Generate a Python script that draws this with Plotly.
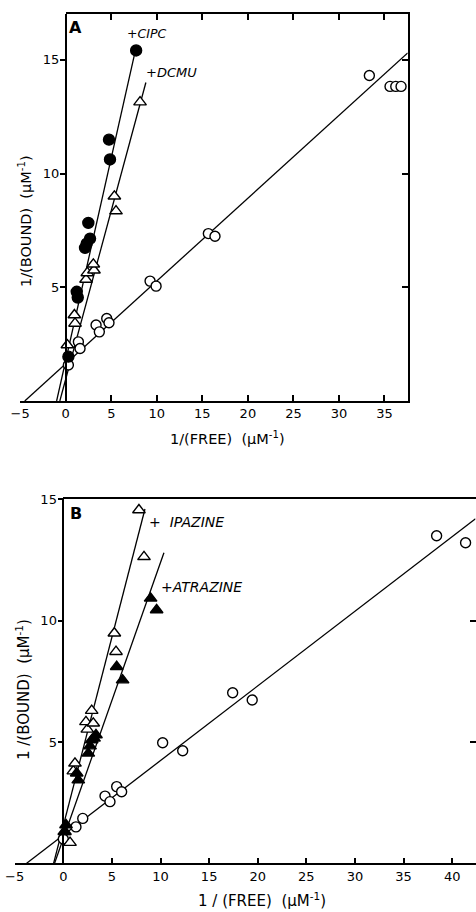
import plotly.graph_objects as go

W, H = 476, 912

# ---------------- Panel A data ----------------
a_ctrl_x = [0.29, 1.39, 1.57, 3.33, 3.69, 4.5, 4.75, 9.26, 9.92, 15.66, 16.39, 33.34, 35.61, 36.24, 36.82]
a_ctrl_y = [1.58, 2.6, 2.31, 3.34, 3.04, 3.63, 3.44, 5.27, 5.05, 7.36, 7.24, 14.31, 13.83, 13.83, 13.83]
a_cipc_x = [0.29, 1.21, 1.32, 2.12, 2.3, 2.67, 2.48, 4.86, 4.75, 7.73]
a_cipc_y = [1.95, 4.8, 4.55, 6.73, 6.92, 7.14, 7.83, 10.62, 11.49, 15.41]
a_dcmu_x = [0.18, 1.02, 0.95, 2.23, 2.37, 3.1, 3.03, 5.52, 5.34, 8.16]
a_dcmu_y = [2.46, 3.41, 3.78, 5.34, 5.63, 5.75, 6.01, 8.35, 9.0, 13.14]
# fitted lines (end points)
a_ctrl_line_x = [-4.5, 37.55]
a_ctrl_line_y = [0.0, 15.3]
a_cipc_line_x = [-1.0, 7.7]
a_cipc_line_y = [0.0, 15.5]
a_dcmu_line_x = [-0.65, 8.8]
a_dcmu_line_y = [0.0, 14.0]
a_xticks = [-5, 0, 5, 10, 15, 20, 25, 30, 35]
a_yticks = [5, 10, 15]

# ---------------- Panel B data ----------------
b_ctrl_x = [0.0, 1.3, 2.0, 4.29, 4.8, 5.49, 6.0, 10.22, 12.28, 17.42, 19.43, 38.4, 41.38]
b_ctrl_y = [1.0, 1.5, 1.85, 2.77, 2.54, 3.16, 2.95, 4.97, 4.64, 7.03, 6.73, 13.5, 13.21]
b_ipaz_x = [0.1, 0.69, 1.03, 1.2, 2.47, 2.33, 3.08, 2.92, 5.42, 5.25, 8.3, 7.78]
b_ipaz_y = [1.3, 0.85, 3.8, 4.12, 5.52, 5.83, 5.77, 6.29, 8.72, 9.48, 12.63, 14.56]
b_atra_x = [0.17, 0.28, 1.54, 1.38, 2.57, 2.75, 2.92, 3.16, 3.36, 6.1, 5.49, 9.6, 8.98]
b_atra_y = [1.3, 1.58, 3.43, 3.71, 4.53, 4.83, 5.08, 5.15, 5.29, 7.55, 8.1, 10.44, 10.92]
b_ctrl_line_x = [-3.77, 42.4]
b_ctrl_line_y = [0.0, 14.2]
b_ipaz_line_x = [-1.0, 8.4]
b_ipaz_line_y = [0.0, 14.6]
b_atra_line_x = [-0.9, 10.35]
b_atra_line_y = [0.0, 12.8]
b_xticks = [-5, 0, 5, 10, 15, 20, 25, 30, 35, 40]
b_yticks = [5, 10, 15]

# ---------------- geometry (pixels) ----------------
A_xr = [-5, 37.55]; A_yr = [0, 17]
A_px = (20.2, 407.7); A_py = (14.3, 401.0)   # left,right ; top,bottom
B_xr = [-5, 42.4]; B_yr = [0, 15]
B_px = (14.7, 475.5); B_py = (499.3, 863.3)

def xd(p):
    return [p[0] / W, p[1] / W]

def yd(p):
    return [1 - p[1] / H, 1 - p[0] / H]

def zero_pos(xr, dom):
    return dom[0] + (0 - xr[0]) / (xr[1] - xr[0]) * (dom[1] - dom[0])

FONT = "DejaVu Sans"
BLACK = "black"
LW = 1.6

fig = go.Figure()

def add_lines(x, y, xa, ya):
    fig.add_trace(go.Scatter(x=x, y=y, mode="lines", line=dict(color=BLACK, width=1.3),
                             xaxis=xa, yaxis=ya, showlegend=False, hoverinfo="skip"))

def add_marks(x, y, sym, fill, xa, ya, size=10):
    fig.add_trace(go.Scatter(x=x, y=y, mode="markers",
                             marker=dict(symbol=sym, size=size, color=fill,
                                         line=dict(color=BLACK, width=1.4)),
                             xaxis=xa, yaxis=ya, showlegend=False, hoverinfo="skip"))

# Panel A
add_lines(a_ctrl_line_x, a_ctrl_line_y, "x", "y")
add_lines(a_cipc_line_x, a_cipc_line_y, "x", "y")
add_lines(a_dcmu_line_x, a_dcmu_line_y, "x", "y")
add_marks(a_ctrl_x, a_ctrl_y, "circle", "white", "x", "y", 10)
add_marks(a_dcmu_x, a_dcmu_y, "triangle-up", "white", "x", "y", 11)
add_marks(a_cipc_x, a_cipc_y, "circle", BLACK, "x", "y", 11)
# Panel B
add_lines(b_ctrl_line_x, b_ctrl_line_y, "x2", "y2")
add_lines(b_ipaz_line_x, b_ipaz_line_y, "x2", "y2")
add_lines(b_atra_line_x, b_atra_line_y, "x2", "y2")
add_marks(b_ctrl_x, b_ctrl_y, "circle", "white", "x2", "y2", 10)
add_marks(b_ipaz_x, b_ipaz_y, "triangle-up", "white", "x2", "y2", 11)
add_marks(b_atra_x, b_atra_y, "triangle-up", BLACK, "x2", "y2", 11)

# dummy traces for frame axes
for xa, ya in [("x3", "y"), ("x", "y3"), ("x4", "y2"), ("x2", "y4")]:
    fig.add_trace(go.Scatter(x=[None], y=[None], mode="markers", xaxis=xa, yaxis=ya,
                             showlegend=False, hoverinfo="skip"))

tickfont = dict(family=FONT, size=13, color=BLACK)
base = dict(showgrid=False, zeroline=False, showline=True, linecolor=BLACK, linewidth=LW,
            tickcolor=BLACK, tickwidth=LW, ticklen=6, tickfont=tickfont, fixedrange=True,
            automargin=False)

Axd, Ayd = xd(A_px), yd(A_py)
Bxd, Byd = xd(B_px), yd(B_py)
A0 = zero_pos(A_xr, Axd)
B0 = zero_pos(B_xr, Bxd)

fig.update_layout(
    template="none",
    width=W, height=H, margin=dict(l=0, r=0, t=0, b=0, pad=0, autoexpand=False),
    paper_bgcolor="white", plot_bgcolor="rgba(0,0,0,0)",
    xaxis=dict(base, domain=Axd, range=A_xr, anchor="y", ticks="inside",
               tickmode="array", tickvals=a_xticks),
    yaxis=dict(base, domain=Ayd, range=A_yr, anchor="free", position=A0, ticks="outside",
               ticklen=5, ticklabelstandoff=-2, tickmode="array", tickvals=a_yticks),
    xaxis3=dict(base, domain=[A0, Axd[1]], range=[0, A_xr[1]], anchor="y", side="top",
                ticks="inside", tickmode="array", tickvals=a_xticks[2:], showticklabels=False),
    yaxis3=dict(base, domain=Ayd, range=A_yr, anchor="x", side="right", overlaying="y",
                ticks="inside", tickmode="array", tickvals=a_yticks, showticklabels=False),
    xaxis2=dict(base, domain=Bxd, range=B_xr, anchor="y2", ticks="inside",
                tickmode="array", tickvals=b_xticks),
    yaxis2=dict(base, domain=Byd, range=B_yr, anchor="free", position=B0, ticks="outside",
                ticklen=5, ticklabelstandoff=-2, tickmode="array", tickvals=b_yticks),
    xaxis4=dict(base, domain=[B0, Bxd[1]], range=[0, B_xr[1]], anchor="y2", side="top",
                ticks="", showticklabels=False),
    yaxis4=dict(base, domain=Byd, range=B_yr, anchor="x2", side="right", overlaying="y2",
                ticks="inside", tickmode="array", tickvals=b_yticks, showticklabels=False),
)

def ann(text, x, y, size=12, angle=0, xanchor="center", italic=False, bold=False):
    if italic:
        text = "<i>" + text + "</i>"
    if bold:
        text = "<b>" + text + "</b>"
    fig.add_annotation(text=text, x=x / W, y=1 - y / H, xref="paper", yref="paper",
                       showarrow=False, textangle=angle, xanchor=xanchor, yanchor="middle",
                       borderpad=0, font=dict(family=FONT, size=size, color=BLACK))

SP = "\u00a0\u00a0"
unit = "(\u00b5M<sup>-1</sup>)"
# Panel A texts
ann("A", 68, 28, size=16, xanchor="left", bold=True)
ann("+CIPC", 126, 33, size=12.5, italic=True, xanchor="left")
ann("+DCMU", 145, 72, size=13, italic=True, xanchor="left")
ann("1/(FREE)" + SP + unit, 227, 438, size=14.5)
ann("1/(BOUND)" + SP + unit, 25, 221, size=14.5, angle=-90)
# Panel B texts
ann("B", 69, 513, size=16, xanchor="left", bold=True)
ann("+\u00a0\u00a0IPAZINE", 148, 522, size=14, italic=True, xanchor="left")
ann("+ATRAZINE", 160, 587, size=14, italic=True, xanchor="left")
ann("1 / (FREE)" + SP + unit, 262, 900, size=15)
ann("1 /(BOUND)" + SP + unit, 23, 690, size=15, angle=-90)

fig.write_html("out.html")
